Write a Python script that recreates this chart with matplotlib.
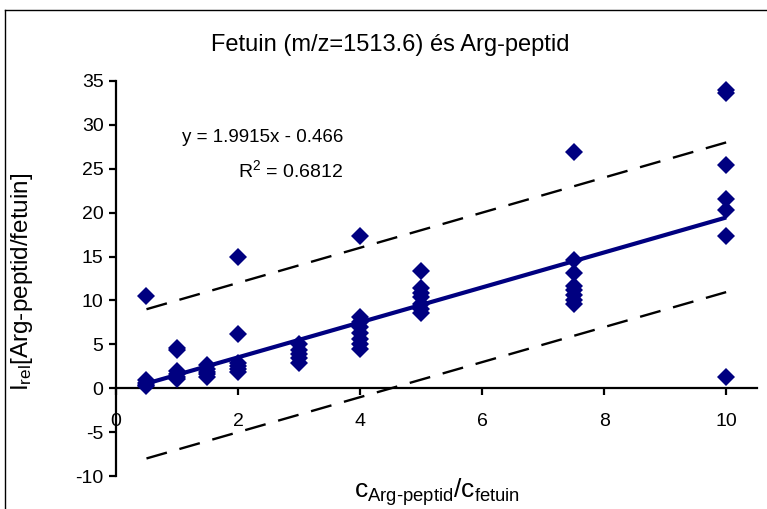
import matplotlib
matplotlib.use("Agg")
import matplotlib.pyplot as plt
from matplotlib.lines import Line2D
import numpy as np

plt.rcParams['font.family'] = ['Liberation Sans', 'DejaVu Sans']
plt.rcParams['mathtext.fontset'] = 'custom'
plt.rcParams['mathtext.rm'] = 'Liberation Sans'
plt.rcParams['mathtext.it'] = 'Liberation Sans'
plt.rcParams['axes.unicode_minus'] = False

# Measured ratios per concentration level
conc_levels = [0.5, 1, 1.5, 2, 3, 4, 5, 7.5, 10]
i_rel = [
    [10.5, 0.9, 0.6, 0.4, 0.2],
    [4.6, 4.3, 2.0, 1.6, 1.3, 1.0],
    [2.6, 2.2, 1.9, 1.6, 1.3],
    [15.0, 6.2, 2.9, 2.5, 2.2, 1.9],
    [5.0, 4.4, 3.9, 3.4, 2.9],
    [17.3, 8.1, 7.6, 7.0, 6.3, 5.6, 5.0, 4.5],
    [13.4, 11.4, 10.9, 10.4, 9.6, 9.0, 8.6],
    [26.9, 14.6, 13.1, 11.7, 11.2, 10.6, 10.0, 9.6],
    [34.0, 33.6, 25.4, 21.6, 20.3, 17.3, 1.3],
]

# Linear fit and prediction band
slope = 1.9915
intercept = -0.466
r_squared = 0.6812
fit_x = [0.5, 10]
band_upper = [9.0, 28.0]
band_lower = [-8.0, 10.95]

xs = np.concatenate([[c] * len(v) for c, v in zip(conc_levels, i_rel)])
ys = np.concatenate(i_rel)

fig = plt.figure(figsize=(7.67, 5.09), dpi=100)
ax = fig.add_axes([0.1512, 0.0648, 0.8353, 0.7761])

navy = '#000080'
ax.plot(xs, ys, linestyle='none', marker='D', markersize=9,
        color=navy, markeredgewidth=0, zorder=3)
fx = np.array(fit_x)
ax.plot(fx, slope * fx + intercept, color=navy, linewidth=3.0,
        solid_capstyle='butt', zorder=4)
ax.plot(fit_x, band_upper, color='black', linewidth=1.7, dashes=(9, 5.5), zorder=2)
ax.plot(fit_x, band_lower, color='black', linewidth=1.7, dashes=(9, 5.5), zorder=2)

ax.set_xlim(0, 10.5)
ax.set_ylim(-10, 35)
ax.set_xticks([0, 2, 4, 6, 8, 10])
ax.set_yticks(np.arange(-10, 36, 5))

ax.spines['top'].set_visible(False)
ax.spines['right'].set_visible(False)
ax.spines['bottom'].set_position(('data', 0))
ax.spines['left'].set_linewidth(1.6)
ax.spines['bottom'].set_linewidth(1.6)
ax.tick_params(axis='y', direction='out', length=5, width=1.6, pad=4, labelsize=14)
ax.tick_params(axis='x', direction='out', length=5, width=1.6, pad=13, labelsize=14)

fig.text(343 / 767, 1 - 137 / 509, f"y = {slope}x - {abs(intercept)}",
         fontsize=13.5, ha='right', va='center')
fig.text(343 / 767, 1 - 170 / 509, r"R$^{2}$ = " + f"{r_squared:.4f}",
         fontsize=14, ha='right', va='center')

fig.text(390 / 767, 1 - 45 / 509, "Fetuin (m/z=1513.6) és Arg-peptid",
         fontsize=17, ha='center', va='center')
fig.text(437 / 767, 1 - 492 / 509,
         r"$\mathregular{c_{Arg\text{-}peptid}/c_{fetuin}}$",
         fontsize=19, ha='center', va='center')
fig.text(22 / 767, 1 - 282 / 509,
         r"$\mathregular{I_{rel}[Arg\text{-}peptid/fetuin]}$",
         fontsize=17.5, ha='center', va='center', rotation=90)

# Chart area outline (top and left edges)
fig.add_artist(Line2D([5 / 767, 5 / 767], [0, 1 - 10 / 509], color='black',
                      linewidth=1.0, transform=fig.transFigure))
fig.add_artist(Line2D([5 / 767, 1.0], [1 - 10 / 509, 1 - 10 / 509], color='black',
                      linewidth=1.0, transform=fig.transFigure))

fig.savefig("out.png", dpi=100)
